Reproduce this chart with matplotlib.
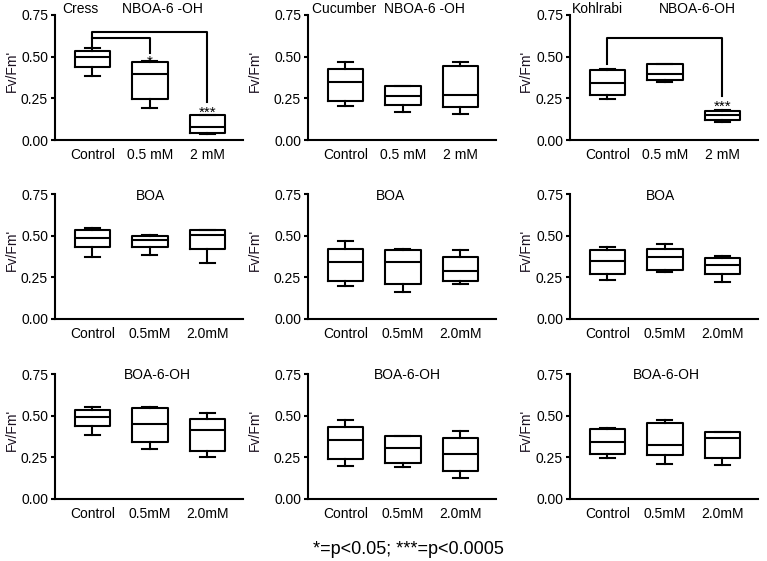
import numpy as np
import matplotlib
matplotlib.use("Agg")
import matplotlib.pyplot as plt

plt.rcParams['font.family'] = ['Liberation Sans', 'DejaVu Sans']

# five-number summaries per group: whisker low, q1, median, q3, whisker high
cress_nboa = [[0.384, 0.440, 0.500, 0.536, 0.554],
              [0.194, 0.246, 0.396, 0.466, 0.474],
              [0.034, 0.044, 0.076, 0.150, 0.150]]
cucumber_nboa = [[0.202, 0.232, 0.347, 0.425, 0.470],
                 [0.167, 0.210, 0.262, 0.327, 0.327],
                 [0.159, 0.196, 0.272, 0.444, 0.470]]
kohlrabi_nboa = [[0.245, 0.269, 0.342, 0.422, 0.428],
                 [0.350, 0.362, 0.394, 0.454, 0.458],
                 [0.111, 0.119, 0.149, 0.173, 0.181]]
cress_boa = [[0.372, 0.434, 0.487, 0.533, 0.547],
             [0.382, 0.434, 0.477, 0.497, 0.507],
             [0.338, 0.418, 0.503, 0.533, 0.533]]
cucumber_boa = [[0.200, 0.228, 0.344, 0.420, 0.468],
                [0.164, 0.208, 0.344, 0.414, 0.420],
                [0.210, 0.228, 0.290, 0.370, 0.414]]
kohlrabi_boa = [[0.236, 0.270, 0.347, 0.413, 0.433],
                [0.282, 0.296, 0.371, 0.423, 0.452],
                [0.220, 0.270, 0.323, 0.367, 0.377]]
cress_boa6 = [[0.384, 0.438, 0.493, 0.535, 0.555],
              [0.298, 0.342, 0.448, 0.545, 0.555],
              [0.253, 0.288, 0.412, 0.483, 0.519]]
cucumber_boa6 = [[0.201, 0.241, 0.352, 0.432, 0.477],
                 [0.191, 0.217, 0.308, 0.378, 0.378],
                 [0.125, 0.167, 0.271, 0.368, 0.408]]
kohlrabi_boa6 = [[0.244, 0.272, 0.341, 0.421, 0.427],
                 [0.208, 0.262, 0.323, 0.456, 0.472],
                 [0.202, 0.246, 0.367, 0.405, 0.405]]

labels_top = ['Control', '0.5 mM', '2 mM']
labels_rest = ['Control', '0.5mM', '2.0mM']
yticks = [0.00, 0.25, 0.50, 0.75]

panels = [
    [cress_nboa, cucumber_nboa, kohlrabi_nboa],
    [cress_boa, cucumber_boa, kohlrabi_boa],
    [cress_boa6, cucumber_boa6, kohlrabi_boa6],
]

W, H = 767, 561
fig = plt.figure(figsize=(W / 100, H / 100), dpi=100)

col_left = [55, 308, 570]
row_top = [15, 194, 374]
ax_w, ax_h = 188, 125

# title texts: (text, x in axes fraction, ha)
titles = [
    [[('Cress', 0.04, 'left'), ('NBOA-6 -OH', 0.57, 'center')],
     [('Cucumber  NBOA-6 -OH', 0.02, 'left')],
     [('Kohlrabi', 0.01, 'left'), ('NBOA-6-OH', 0.68, 'center')]],
    [[('BOA', 0.51, 'center')], [('BOA', 0.44, 'center')], [('BOA', 0.48, 'center')]],
    [[('BOA-6-OH', 0.545, 'center')], [('BOA-6-OH', 0.53, 'center')],
     [('BOA-6-OH', 0.51, 'center')]],
]
title_y = [1.05, 0.985, 0.99]
ylabel_x = [-0.19, -0.245, -0.2]

axes = {}
for r in range(3):
    for c in range(3):
        left = col_left[c] / W
        bottom = 1 - (row_top[r] + ax_h) / H
        ax = fig.add_axes([left, bottom, ax_w / W, ax_h / H])
        axes[(r, c)] = ax
        stats = []
        for s in panels[r][c]:
            stats.append(dict(whislo=s[0], q1=s[1], med=s[2], q3=s[3], whishi=s[4], fliers=[]))
        lw = 1.5
        ax.bxp(stats, positions=[1, 2, 3], widths=0.62, capwidths=0.26,
               showfliers=False,
               boxprops=dict(color='black', linewidth=lw),
               medianprops=dict(color='black', linewidth=lw),
               whiskerprops=dict(color='black', linewidth=lw),
               capprops=dict(color='black', linewidth=lw))
        ax.set_xlim(0.35, 3.62)
        ax.set_ylim(0, 0.75)
        ax.set_yticks(yticks)
        ax.set_yticklabels(['%.2f' % v for v in yticks], fontsize=10)
        ax.set_xticks([1, 2, 3])
        ax.set_xticklabels(labels_top if r == 0 else labels_rest, fontsize=10)
        ax.tick_params(axis='x', length=0, pad=6)
        ax.tick_params(axis='y', length=3, width=1.5, pad=2)
        for sp in ['top', 'right']:
            ax.spines[sp].set_visible(False)
        for sp in ['left', 'bottom']:
            ax.spines[sp].set_linewidth(1.5)
        ax.set_ylabel("Fv/Fm'", fontsize=10, color='#1a1020')
        ax.yaxis.set_label_coords(ylabel_x[c], 0.55)
        for txt, tx, ha in titles[r][c]:
            ax.text(tx, title_y[r], txt, transform=ax.transAxes, ha=ha, va='center',
                    fontsize=10)

# significance brackets
ax = axes[(0, 0)]
ax.plot([1, 1, 3, 3], [0.554, 0.646, 0.646, 0.23], color='black', lw=1.5, clip_on=False)
ax.plot([1, 2, 2], [0.614, 0.614, 0.52], color='black', lw=1.5, clip_on=False)
ax.text(2, 0.445, '*', ha='center', va='baseline', fontsize=11)
ax.text(3, 0.142, '***', ha='center', va='baseline', fontsize=11)

ax = axes[(0, 2)]
ax.plot([1, 1, 3, 3], [0.458, 0.613, 0.613, 0.265], color='black', lw=1.5, clip_on=False)
ax.text(3, 0.173, '***', ha='center', va='baseline', fontsize=11)

fig.text(408 / W, 1 - 550 / H, '*=p<0.05; ***=p<0.0005', ha='center', va='center', fontsize=13)

fig.savefig('out.png', dpi=100)
